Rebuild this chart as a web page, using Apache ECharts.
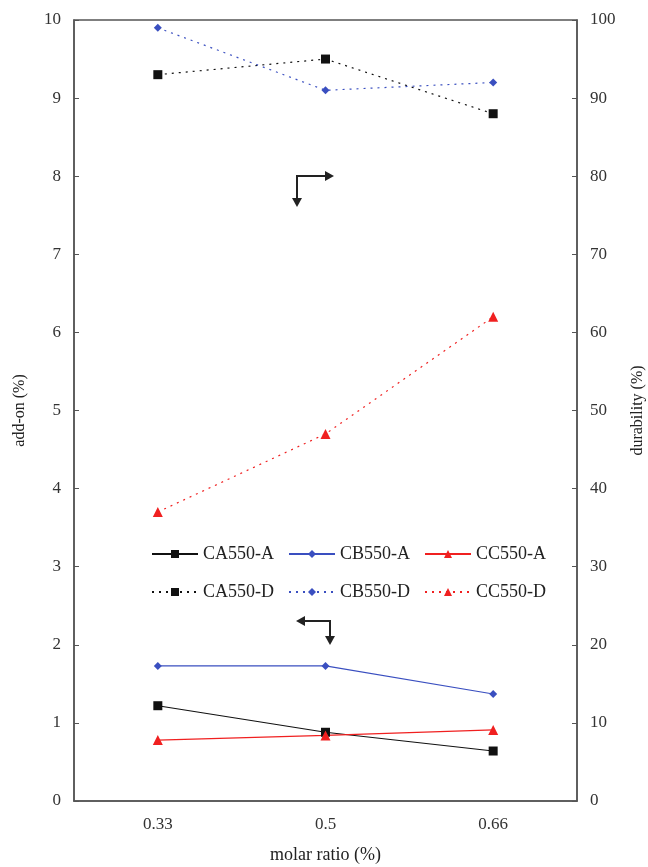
<!DOCTYPE html>
<html><head><meta charset="utf-8">
<script src="https://cdn.jsdelivr.net/npm/echarts@6/dist/echarts.min.js"></script>
<style>html,body{margin:0;padding:0;background:#fff}#c{width:648px;height:867px}</style>
</head><body><div id="c"></div>
<script>
const categories = ['0.33', '0.5', '0.66'];
const CA550_A = [1.22, 0.88, 0.64];
const CB550_A = [1.73, 1.73, 1.37];
const CC550_A = [0.78, 0.84, 0.91];
const CA550_D = [93, 95, 88];
const CB550_D = [99, 91, 92];
const CC550_D = [37, 47, 62];
const leftTicks = [0, 10];
const rightTicks = [0, 100];

const font = 'Liberation Serif';
const chart = echarts.init(document.getElementById('c'), null, {renderer: 'canvas'});

function ser(name, data, color, symbol, size, dashed, yIdx) {
  return {
    name, type: 'line', data, yAxisIndex: yIdx,
    symbol, symbolSize: size,
    lineStyle: {color, width: 1.2, type: dashed ? [2, 5] : 'solid'},
    itemStyle: {color},
    animation: false
  };
}

const legendText = {fontFamily: font, fontSize: 18, color: '#222'};

chart.setOption({
  backgroundColor: '#fff',
  grid: {left: 74, right: 71, top: 20, bottom: 66, containLabel: false, outerBoundsMode: 'none'},
  legend: [
    {data: ['CA550-A', 'CB550-A', 'CC550-A'], left: 146, top: 540, itemWidth: 46, itemHeight: 10, itemGap: 14, textStyle: legendText},
    {data: ['CA550-D', 'CB550-D', 'CC550-D'], left: 146, top: 578, itemWidth: 46, itemHeight: 10, itemGap: 14, textStyle: legendText}
  ],
  xAxis: {
    type: 'category', data: categories, boundaryGap: true,
    name: 'molar ratio (%)', nameLocation: 'middle', nameGap: 45,
    nameTextStyle: {fontFamily: font, fontSize: 18, color: '#222'},
    axisLine: {lineStyle: {color: '#555', width: 1.5}},
    axisTick: {inside: true, length: 5, lineStyle: {color: '#555'}},
    axisLabel: {fontFamily: font, fontSize: 17, color: '#333', margin: 15},
    splitLine: {show: false}
  },
  yAxis: [
    {type: 'value', min: leftTicks[0], max: leftTicks[1], interval: 1, position: 'left',
     name: 'add-on (%)', nameLocation: 'middle', nameGap: 46, nameRotate: 90,
     nameTextStyle: {fontFamily: font, fontSize: 16, color: '#222'},
     axisLine: {show: true, lineStyle: {color: '#555', width: 1.5}},
     axisTick: {show: true, inside: true, length: 5, lineStyle: {color: '#555'}},
     axisLabel: {fontFamily: font, fontSize: 17, color: '#333', margin: 13},
     splitLine: {show: false}},
    {type: 'value', min: rightTicks[0], max: rightTicks[1], interval: 10, position: 'right',
     name: 'durability (%)', nameLocation: 'middle', nameGap: 53, nameRotate: 90,
     nameTextStyle: {fontFamily: font, fontSize: 16, color: '#222'},
     axisLine: {show: true, lineStyle: {color: '#555', width: 1.5}},
     axisTick: {show: true, inside: true, length: 5, lineStyle: {color: '#555'}},
     axisLabel: {fontFamily: font, fontSize: 17, color: '#333', margin: 13},
     splitLine: {show: false}}
  ],
  graphic: [
    {type: 'rect', shape: {x: 74, y: 20, width: 503, height: 781}, style: {fill: 'none', stroke: '#555', lineWidth: 1.5}, silent: true, z: 0},
    {type: 'polyline', shape: {points: [[297, 203], [297, 176], [330, 176]]}, style: {stroke: '#222', lineWidth: 2, fill: 'none'}},
    {type: 'polygon', shape: {points: [[292, 198], [302, 198], [297, 207]]}, style: {fill: '#222'}},
    {type: 'polygon', shape: {points: [[325, 171], [325, 181], [334, 176]]}, style: {fill: '#222'}},
    {type: 'polyline', shape: {points: [[300, 621], [330, 621], [330, 640]]}, style: {stroke: '#222', lineWidth: 2, fill: 'none'}},
    {type: 'polygon', shape: {points: [[305, 616], [305, 626], [296, 621]]}, style: {fill: '#222'}},
    {type: 'polygon', shape: {points: [[325, 636], [335, 636], [330, 645]]}, style: {fill: '#222'}}
  ],
  series: [
    ser('CA550-A', CA550_A, '#111', 'rect', 9, false, 0),
    ser('CB550-A', CB550_A, '#3a4fc0', 'diamond', 8, false, 0),
    ser('CC550-A', CC550_A, '#f02020', 'triangle', 10, false, 0),
    ser('CA550-D', CA550_D, '#111', 'rect', 9, true, 1),
    ser('CB550-D', CB550_D, '#3a4fc0', 'diamond', 8, true, 1),
    ser('CC550-D', CC550_D, '#f02020', 'triangle', 10, true, 1)
  ]
});
</script></body></html>
